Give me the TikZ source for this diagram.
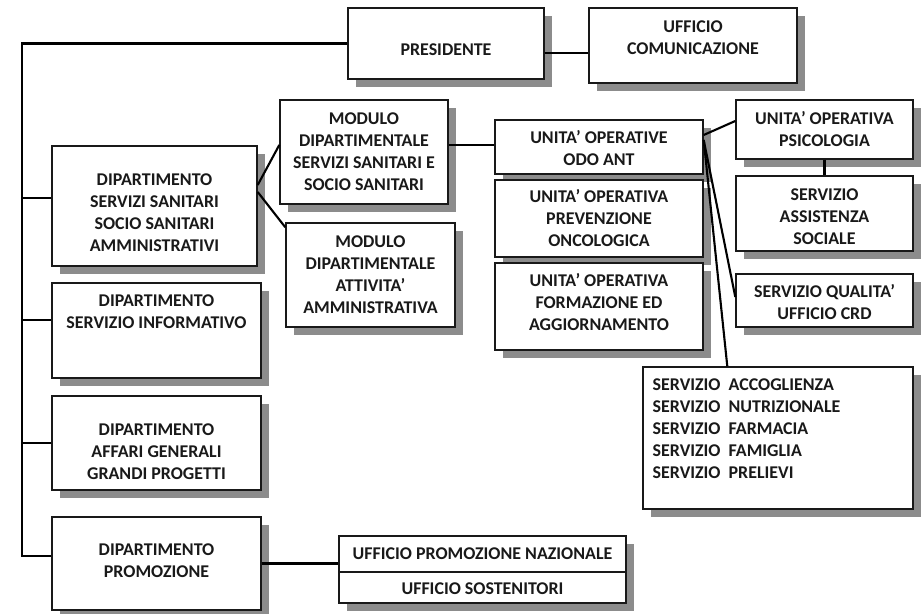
\documentclass[tikz,border=0pt]{standalone}
\usepackage{fontspec}
\setmainfont{Carlito}
\usetikzlibrary{shadows}

\begin{document}
\begin{tikzpicture}[
    box/.style={draw=black!90, line width=0.8pt, fill=white,
        drop shadow={shadow xshift=0.16cm, shadow yshift=-0.16cm, fill=black!45, opacity=1}},
    txt/.style={font=\fontsize{10.2}{12.5}\selectfont\bfseries, align=center, inner sep=0pt, text=black!90},
    link/.style={line width=1.2pt}
]
    % Fix the size of the page
    \useasboundingbox (0,0) rectangle (18.46,-12.28);

    % Top row
    \node[box, minimum width=3.92cm, minimum height=1.42cm] (pres) at (8.92,-0.87) {};
    \node[txt] (pres-t) at ([yshift=-0.12cm]pres.center) {PRESIDENTE};
    \node[box, minimum width=4.16cm, minimum height=1.50cm] (ucom) at (13.86,-0.91) {};
    \node[txt] (ucom-t) at ([yshift=0.15cm]ucom.center) {UFFICIO\\COMUNICAZIONE};

    % Departments on the left
    \node[box, minimum width=4.10cm, minimum height=2.40cm] (dss) at (3.09,-4.12) {};
    \node[txt] (dss-t) at ([yshift=-0.14cm]dss.center) {DIPARTIMENTO\\SERVIZI SANITARI\\SOCIO SANITARI\\AMMINISTRATIVI};
    \node[box, minimum width=4.18cm, minimum height=1.90cm] (dsi) at (3.13,-6.61) {};
    \node[txt] (dsi-t) at ([yshift=0.37cm]dsi.center) {DIPARTIMENTO\\SERVIZIO INFORMATIVO};
    \node[box, minimum width=4.18cm, minimum height=1.88cm] (dag) at (3.13,-8.86) {};
    \node[txt] (dag-t) at ([yshift=-0.17cm]dag.center) {DIPARTIMENTO\\AFFARI GENERALI\\GRANDI PROGETTI};
    \node[box, minimum width=4.18cm, minimum height=1.86cm] (dprom) at (3.13,-11.27) {};
    \node[txt] (dprom-t) at ([yshift=0.05cm]dprom.center) {DIPARTIMENTO\\PROMOZIONE};

    % Modules
    \node[box, minimum width=3.36cm, minimum height=2.08cm] (msan) at (7.28,-3.04) {};
    \node[txt] (msan-t) at (msan.center) {MODULO\\DIPARTIMENTALE\\SERVIZI SANITARI E\\SOCIO SANITARI};
    \node[box, minimum width=3.38cm, minimum height=2.08cm] (mamm) at (7.41,-5.50) {};
    \node[txt] (mamm-t) at (mamm.center) {MODULO\\DIPARTIMENTALE\\ATTIVITA’\\AMMINISTRATIVA};

    % Promotion offices
    \node[box, minimum width=5.74cm, minimum height=0.72cm] (upn) at (9.65,-11.08) {};
    \node[txt] (upn-t) at (upn.center) {UFFICIO PROMOZIONE NAZIONALE};
    \node[box, minimum width=5.74cm, minimum height=0.62cm] (usost) at (9.65,-11.75) {};
    \node[txt] (usost-t) at ([yshift=-0.03cm]usost.center) {UFFICIO SOSTENITORI};

    % Operative units
    \node[box, minimum width=4.16cm, minimum height=1.08cm] (uodo) at (11.98,-2.94) {};
    \node[txt] (uodo-t) at ([yshift=-0.03cm]uodo.center) {UNITA’ OPERATIVE\\ODO ANT};
    \node[box, minimum width=4.16cm, minimum height=1.54cm] (uprev) at (11.98,-4.37) {};
    \node[txt] (uprev-t) at (uprev.center) {UNITA’ OPERATIVA\\PREVENZIONE\\ONCOLOGICA};
    \node[box, minimum width=4.16cm, minimum height=1.74cm] (uform) at (11.98,-6.13) {};
    \node[txt] (uform-t) at ([yshift=0.09cm]uform.center) {UNITA’ OPERATIVA\\FORMAZIONE ED\\AGGIORNAMENTO};

    % Services on the right
    \node[box, minimum width=3.54cm, minimum height=1.18cm] (upsi) at (16.49,-2.59) {};
    \node[txt] (upsi-t) at (upsi.center) {UNITA’ OPERATIVA\\PSICOLOGIA};
    \node[box, minimum width=3.54cm, minimum height=1.50cm] (sass) at (16.49,-4.27) {};
    \node[txt] (sass-t) at ([yshift=-0.07cm]sass.center) {SERVIZIO\\ASSISTENZA\\SOCIALE};
    \node[box, minimum width=3.54cm, minimum height=1.06cm] (squal) at (16.49,-6.01) {};
    \node[txt] (squal-t) at ([yshift=-0.04cm]squal.center) {SERVIZIO QUALITA’\\UFFICIO CRD};
    \node[box, minimum width=5.40cm, minimum height=2.84cm] (sserv) at (15.56,-8.76) {};
    \node[txt, align=left, anchor=west] (sserv-t) at ([xshift=0.2cm,yshift=0.18cm]sserv.west)
        {SERVIZIO\ \ ACCOGLIENZA\\SERVIZIO\ \ NUTRIZIONALE\\SERVIZIO\ \ FARMACIA\\SERVIZIO\ \ FAMIGLIA\\SERVIZIO\ \ PRELIEVI};

    % Left spine with the departments
    \coordinate (dss-in) at ([yshift=0.16cm]dss.west);
    \coordinate (dsi-in) at ([yshift=0.21cm]dsi.west);
    \coordinate (dag-in) at (dag.west);
    \coordinate (dprom-in) at ([yshift=0.15cm]dprom.west);
    \draw[link] (pres.west) -| ([xshift=-0.58cm]dprom-in) -- (dprom-in);
    \foreach \n in {dss-in,dsi-in,dag-in}
        \draw[link] (\n) -- ++(-0.58,0);

    % Other links
    \draw[link] ([yshift=-0.19cm]pres.east) -- ([yshift=-0.19cm]pres.east -| ucom.west);
    \draw[link] ([yshift=0.42cm]dss.east) -- ([yshift=0.14cm]msan.west);
    \draw[link] ([yshift=0.28cm]dss.east) -- ([yshift=-0.1cm]mamm.north west);
    \draw[link] ([yshift=0.14cm]msan.east) -- ([yshift=0.14cm]msan.east -| uodo.west);
    \draw[link] ([yshift=0.24cm]uodo.east) -- ([yshift=0.17cm]upsi.west);
    \draw[link] ([yshift=0.14cm]uodo.east) -- ([yshift=0.07cm]squal.west);
    \draw[link] ([yshift=0.14cm]uodo.east) -- ([xshift=1.70cm]sserv.north west);
    \draw[link] (upsi.south) -- (sass.north);
    \draw[link] (dprom.east) -- (dprom.east -| upn.west);

\end{tikzpicture}
\end{document}
